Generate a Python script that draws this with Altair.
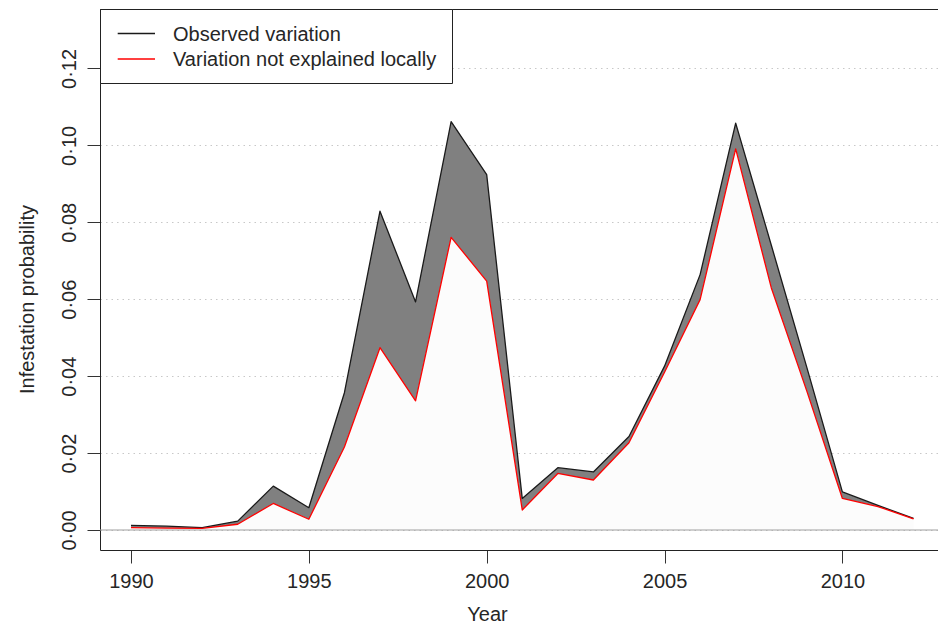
import altair as alt
import pandas as pd

# Yearly infestation probabilities
years = list(range(1990, 2013))
observed = [0.0012, 0.0010, 0.0006, 0.0023, 0.0114, 0.0058, 0.0357, 0.0829,
            0.0593, 0.1062, 0.0924, 0.0082, 0.0162, 0.0151, 0.0243, 0.0426,
            0.0664, 0.1058, 0.0741, 0.0423, 0.0099, 0.0064, 0.0030]
unexplained = [0.0006, 0.0005, 0.0004, 0.0015, 0.0069, 0.0028, 0.0216, 0.0474,
               0.0336, 0.0761, 0.0647, 0.0052, 0.0147, 0.0130, 0.0227, 0.0410,
               0.0599, 0.0991, 0.0630, 0.0361, 0.0082, 0.0061, 0.0029]

x_ticks = [1990, 1995, 2000, 2005, 2010]
y_ticks = [0.0, 0.02, 0.04, 0.06, 0.08, 0.10, 0.12]
legend_labels = ["Observed variation", "Variation not explained locally"]
legend_colors = ["#1a1a1a", "#ff0000"]

df = pd.DataFrame({"year": years, "observed": observed,
                   "unexplained": unexplained, "zero": 0.0})

W, H = 838, 540
FONT = "Liberation Sans"
INK = "#222222"

x_scale = alt.Scale(domain=[1989.1285, 2012.688], nice=False, zero=False)
y_scale = alt.Scale(domain=[-0.0052, 0.1352], nice=False, zero=False)

x_axis = alt.Axis(values=x_ticks, format="d", title="Year", grid=False,
                  tickSize=13, labelPadding=24, labelBaseline="alphabetic",
                  labelFlush=False, titleX=387, titleY=70,
                  titleBaseline="alphabetic", titleAlign="center")
y_axis = alt.Axis(values=y_ticks, title="Infestation probability", grid=True,
                  tickSize=13, labelPadding=12, labelAngle=270,
                  labelAlign="center", labelBaseline="alphabetic",
                  labelFlush=False,
                  labelExpr="replace(format(datum.value, '.2f'), '.', '·')",
                  titleAngle=270, titleX=-67, titleY=289,
                  titleAlign="center", titleBaseline="alphabetic")

X = alt.X("year:Q", scale=x_scale, axis=x_axis)


def Y(field):
    return alt.Y(f"{field}:Q", scale=y_scale, axis=y_axis)


base = alt.Chart(df)

# gap between observed and locally-unexplained variation
band = base.mark_area(color="#808080", opacity=1).encode(
    x=X, y=Y("observed"), y2="unexplained:Q")

# region under the unexplained curve
under = base.mark_area(color="#fcfcfc", opacity=1).encode(
    x=X, y=Y("unexplained"), y2="zero:Q")

zero_line = alt.Chart(pd.DataFrame({"zero": [0.0]})).mark_rule(
    color="#a0a0a0", strokeWidth=1.2).encode(y=Y("zero"))

obs_line = base.mark_line(color=legend_colors[0], strokeWidth=1.3,
                          strokeJoin="round").encode(x=X, y=Y("observed"))
unx_line = base.mark_line(color=legend_colors[1], strokeWidth=1.3,
                          strokeJoin="round").encode(x=X, y=Y("unexplained"))

one = pd.DataFrame({"k": [0]})

# top edge of the plot frame
top_edge = alt.Chart(one).mark_rule(color=INK, strokeWidth=1).encode(
    x=alt.value(0), x2=alt.value(W), y=alt.value(-0.5))

# legend box
legend_box = alt.Chart(one).mark_rect(
    fill="white", stroke=INK, strokeWidth=1).encode(
    x=alt.value(0.5), x2=alt.value(352.5),
    y=alt.value(-0.5), y2=alt.value(73.5))

legend_layers = []
for i, (lab, col) in enumerate(zip(legend_labels, legend_colors)):
    ypos = 23.5 + 25.5 * i
    ldf = pd.DataFrame({"label": [lab]})
    legend_layers.append(
        alt.Chart(ldf).mark_rule(color=col, strokeWidth=1.3).encode(
            x=alt.value(17.7), x2=alt.value(55), y=alt.value(ypos)))
    legend_layers.append(
        alt.Chart(ldf).mark_text(align="left", baseline="middle", font=FONT,
                                 fontSize=20, color="#262626").encode(
            text="label:N", x=alt.value(73), y=alt.value(ypos + 1)))

chart = alt.layer(
    band, under, zero_line, obs_line, unx_line, top_edge, legend_box,
    *legend_layers
).properties(
    width=W, height=H,
    autosize=alt.AutoSizeParams(type="none"),
    padding={"left": 100, "top": 10, "right": 0, "bottom": 76},
    background="white",
).configure_view(stroke=None).configure_axis(
    domainColor=INK, domainWidth=1, tickColor="#333333", tickWidth=1,
    labelColor="#262626", titleColor="#262626",
    labelFont=FONT, titleFont=FONT, labelFontSize=20, titleFontSize=20,
    titleFontWeight="normal",
    gridColor="#c8c8c8", gridDash=[1.5, 4], gridWidth=1,
)

chart.save("out.html", embed_options={"renderer": "svg", "actions": False})
